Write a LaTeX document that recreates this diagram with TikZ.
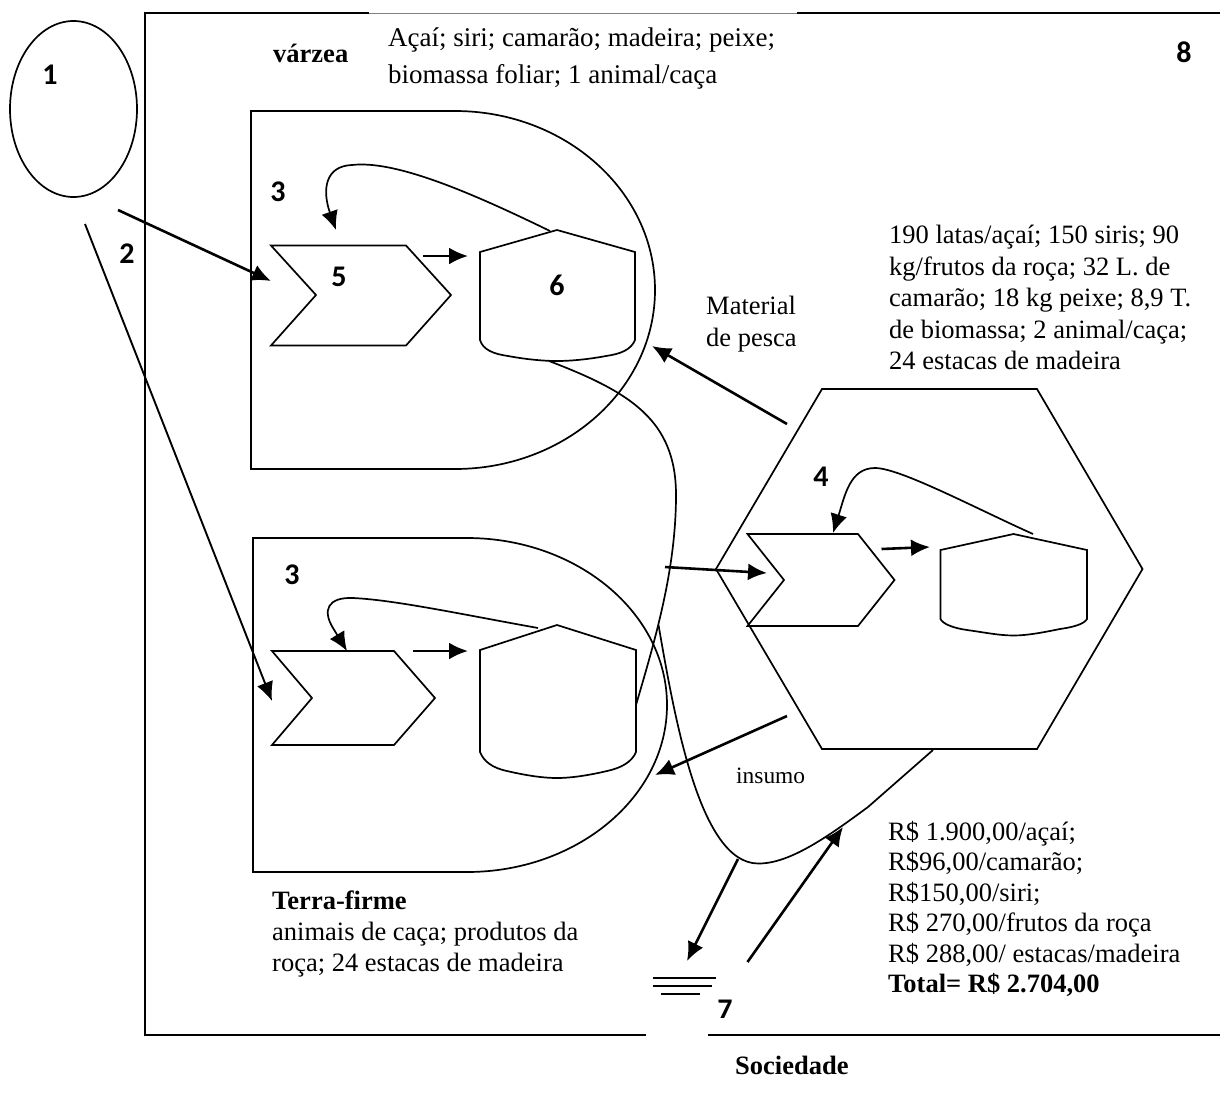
\documentclass[tikz,border=0pt]{standalone}
\usepackage{xcolor}
\usepackage{fontspec}
\setmainfont{Liberation Serif}
\newfontfamily\numfont{Carlito}
\usetikzlibrary{arrows.meta, calc}
\usetikzlibrary{positioning, shapes.geometric}

\begin{document}
\begin{tikzpicture}[
    x=1pt, y=-1pt,
    >={Latex[length=19pt,width=17pt]},
    outline/.style={draw, line width=1.7pt, line join=miter},
    frame/.style={line width=2pt},
    flow/.style={->, line width=2.6pt},
    num/.style ={font=\numfont\bfseries\fontsize{30}{32}\selectfont, inner sep=0pt},
    txt/.style ={anchor=north west, align=left, inner sep=0pt,
                 font=\fontsize{26.5}{31.5}\selectfont},
]
\useasboundingbox (0,0) rectangle (1220,1106);
% outer frame
\draw[frame] (369,13) -- (145,13) -- (145,1035) -- (646,1035);
\draw[line width=1pt, gray] (369,13) -- (797,13);
\draw[frame] (797,13) -- (1220,13);
\draw[frame] (708,1035) -- (1220,1035);
% source
\node[outline, ellipse, minimum width=127pt, minimum height=176pt, inner sep=0pt] (sol) at (73.5,109) {};
% varzea box
\draw[outline] (455,111) -- (251,111) -- (251,469) -- (455,469)
    .. controls (565,469) and (655,389) .. (655,290)
    .. controls (655,191) and (565,111) .. (455,111) -- cycle;
% terra-firme box
\draw[outline] (467,538) -- (253,538) -- (253,872) -- (467,872)
    .. controls (577,872) and (667,797) .. (667,705)
    .. controls (667,613) and (577,538) .. (467,538) -- cycle;
% community hexagon
\draw[outline] (716,569) -- (822,389) -- (1037,389) -- (1142.5,569) -- (1037,749) -- (822,749) -- cycle;
% chevrons
\draw[outline] (271,245.5) -- (406,245.5) -- (451,295) -- (406,345.5) -- (271,345.5) -- (316,295) -- cycle;
\draw[outline] (272,651) -- (394,651) -- (435,698) -- (394,745) -- (272,745) -- (312,698) -- cycle;
\draw[outline] (747.5,534) -- (858,534) -- (894.5,580) -- (858,626) -- (747.5,626) -- (784,580) -- cycle;
% tanks
\draw[outline] (480,252) -- (557,230) -- (635,252) -- (635,340)
    .. controls (631,350) and (620,354) .. (606,356)
    .. controls (590,359) and (572,361) .. (557,361)
    .. controls (542,361) and (524,359) .. (508,356)
    .. controls (494,354) and (483,350) .. (480,340) -- cycle;
\draw[outline] (480,650) -- (557,625) -- (636,650) -- (636,752)
    .. controls (632,762) and (621,768) .. (607,771)
    .. controls (590,775) and (572,778) .. (557,778)
    .. controls (542,778) and (524,775) .. (507,771)
    .. controls (493,768) and (484,762) .. (480,752) -- cycle;
\draw[outline] (940.5,550) -- (1013.5,534) -- (1087,550) -- (1087,619)
    .. controls (1084,624) and (1074,627) .. (1060,629)
    .. controls (1045,632) and (1028,635.5) .. (1013.5,635.5)
    .. controls (999,635.5) and (982,632) .. (967,630)
    .. controls (953,628) and (943,624) .. (940.5,619) -- cycle;
% free ends of the connectors
\coordinate (solA) at (118,210);
\coordinate (inA) at (271,281);
\coordinate (solB) at (85,224);
\coordinate (inB) at (272,701);
\coordinate (loopAs) at (550,231);
\coordinate (loopAe) at (336,230);
\coordinate (loopBs) at (538,628);
\coordinate (loopBe) at (347,651);
\coordinate (loopCs) at (1033,534);
\coordinate (loopCe) at (833,533);
\coordinate (tankAb) at (549,361);
\coordinate (tankBr) at (636,705);
\coordinate (hexIn) at (665,567);
\coordinate (chevIn) at (767,573);
\coordinate (hexA) at (787,424);
\coordinate (boxA) at (652,346);
\coordinate (hexB) at (787,716);
\coordinate (boxB) at (655,775);
\coordinate (saleS) at (658.5,625);
\coordinate (saleE) at (933,750);
\coordinate (sinkT) at (738,859);
\coordinate (sinkE) at (687,961);
\coordinate (payS) at (747.5,962);
\coordinate (payE) at (843,827);
% inner flows
\draw[flow] (423,256) -- (468,256);
\draw[flow] (413,651) -- (468,651);
\draw[flow] (881.5,549) -- (930,547);
% recycling loops
\draw[flow, line width=1.7pt] (loopAs) .. controls (470,192) and (395,160) .. (352,165)
    .. controls (325,166) and (322,190) .. (loopAe);
\draw[flow, line width=1.7pt] (loopBs) .. controls (460,614) and (395,600) .. (353,598)
    .. controls (328,597) and (322,610) .. (333,628) -- (loopBe);
\draw[flow, line width=1.7pt] (loopCs) .. controls (975,508) and (900,468) .. (875,468)
    .. controls (850,468) and (845,495) .. (loopCe);
% inputs
\draw[flow] (solA) -- (inA);
\draw[flow, line width=1.9pt] (solB) -- (inB);
\draw[flow] (hexIn) -- (chevIn);
\draw[flow] (hexA) -- (boxA);
\draw[flow] (hexB) -- (boxB);
% long curves
\draw[outline] (tankAb) .. controls (630,392) and (676,420) .. (676,495)
    .. controls (676,570) and (655,640) .. (tankBr);
\draw[outline] (saleS) .. controls (675,720) and (700,863) .. (758,863.5)
    .. controls (790,864) and (830,835) .. (868,807) -- (saleE);
% sink
\draw[flow] (sinkT) -- (sinkE);
\draw[flow] (payS) -- (payE);
\draw[line width=1.4pt] (653,978) -- (716,978);
\draw[line width=1.4pt] (653,986) -- (712,986);
\draw[line width=1.4pt] (661,994) -- (700,994);
% numbers
\node[num] (n1) at (50,75) {1};
\node[num] (n2) at (127,254) {2};
\node[num] (n3a) at (278,192) {3};
\node[num] (n3b) at (292,575) {3};
\node[num] (n4) at (821,477) {4};
\node[num] (n5) at (339,277) {5};
\node[num] (n6) at (557,285) {6};
\begin{scope}
\clip (700,990) rectangle (750,1017);
\node[num] (n7) at (725,1010) {7};
\end{scope}
\node[num] (n8) at (1184,52) {8};
% labels
\node[txt, font=\bfseries\fontsize{26.5}{30}\selectfont] (varzea) at (273,44) {várzea};
\node[txt, font=\fontsize{27}{37}\selectfont] (varzeaT) at (388,28) {Açaí; siri; camarão; madeira; peixe;\\biomassa foliar; 1 animal/caça};
\node[txt, font=\fontsize{26.5}{32}\selectfont] (pesca) at (706,296) {Material\\de pesca};
\node[txt] (estoque) at (889,225) {190 latas/açaí; 150 siris; 90\\kg/frutos da roça; 32 L. de\\camarão; 18 kg peixe; 8,9 T.\\de biomassa; 2 animal/caça;\\24 estacas de madeira};
\node[txt, font=\fontsize{23.4}{26}\selectfont] (insumo) at (736,768) {insumo};
\node[txt, font=\fontsize{26.5}{30.4}\selectfont] (renda) at (888,821) {R\$ 1.900,00/açaí;\\R\$96,00/camarão;\\R\$150,00/siri;\\R\$ 270,00/frutos da roça\\R\$ 288,00/ estacas/madeira\\\textbf{Total= R\$ 2.704,00}};
\node[txt, font=\fontsize{26.5}{31}\selectfont] (terra) at (272,891) {\textbf{Terra-firme}\\animais de caça; produtos da\\roça; 24 estacas de madeira};
\node[txt, font=\bfseries\fontsize{26.5}{30}\selectfont] (sociedade) at (735,1056) {Sociedade};
\end{tikzpicture}
\end{document}
